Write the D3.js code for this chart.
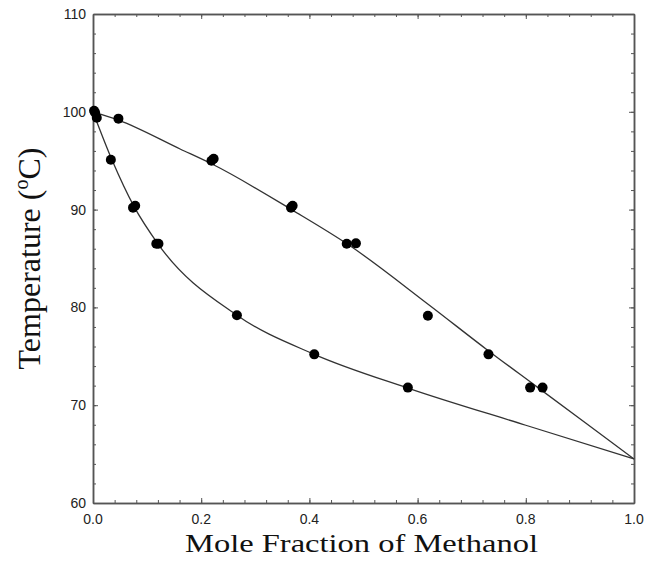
<!DOCTYPE html>
<html>
<head>
<meta charset="utf-8">
<script src="https://cdn.jsdelivr.net/npm/d3@7"></script>
<style>
  body { margin: 0; background: #fff; }
  svg { display: block; }
</style>
</head>
<body>
<div id="container"></div>
<script>
// measured points (mole fraction methanol, temperature in C)
var liquidX = [0.004, 0.007, 0.033, 0.074, 0.078, 0.117, 0.121, 0.266, 0.409, 0.582]
var liquidT = [99.9, 99.4, 95.1, 90.2, 90.4, 86.5, 86.5, 79.2, 75.2, 71.8]
var vaporX = [0.002, 0.047, 0.219, 0.223, 0.366, 0.369, 0.469, 0.486, 0.619, 0.731, 0.808, 0.831]
var vaporT = [100.1, 99.3, 95.0, 95.2, 90.2, 90.4, 86.5, 86.55, 79.15, 75.2, 71.8, 71.8]

// fitted curves
var bubbleX = [0, 0.035, 0.076, 0.12, 0.266, 0.409, 0.582, 0.8, 1]
var bubbleT = [100, 95.1, 90.3, 86.5, 79.2, 75.2, 71.75, 67.95, 64.5]
var dewX = [0, 0.047, 0.161, 0.22, 0.37, 0.475, 0.62, 0.73, 0.82, 1]
var dewT = [100, 99.15, 96.2, 94.66, 89.9, 86.3, 80.3, 75.6, 71.9, 64.5]

var xTicks = [0, 0.2, 0.4, 0.6, 0.8, 1.0]
var yTicks = [60, 70, 80, 90, 100, 110]

var width = 657, height = 574
var plotLeft = 93, plotRight = 634, plotTop = 14, plotBottom = 503

var svg = d3.select('#container').append('svg')
  .attr('width', width).attr('height', height)

var x = d3.scaleLinear().domain([0, 1]).range([plotLeft, plotRight])
var y = d3.scaleLinear().domain([60, 110]).range([plotBottom, plotTop])

var axisColor = '#555'

// minor + major ticks, all pointing inward, on every side
var xMinor = d3.range(0, 1.0001, 0.04)
var yMinor = d3.range(60, 110.001, 2)

function addAxis(axis, tx, ty) {
  var g = svg.append('g').attr('transform', 'translate(' + tx + ',' + ty + ')').call(axis)
  g.selectAll('path, line').attr('stroke', axisColor)
  g.select('.domain').attr('stroke-width', 1.5)
  g.selectAll('text').remove()
  return g
}

addAxis(d3.axisBottom(x).tickValues(xMinor).tickSizeInner(-3).tickSizeOuter(0), 0, plotBottom)
addAxis(d3.axisTop(x).tickValues(xMinor).tickSizeInner(-3).tickSizeOuter(0), 0, plotTop)
addAxis(d3.axisLeft(y).tickValues(yMinor).tickSizeInner(-3).tickSizeOuter(0), plotLeft, 0)
addAxis(d3.axisRight(y).tickValues(yMinor).tickSizeInner(-3).tickSizeOuter(0), plotRight, 0)
addAxis(d3.axisBottom(x).tickValues(xTicks).tickSizeInner(-5).tickSizeOuter(0), 0, plotBottom)
addAxis(d3.axisTop(x).tickValues(xTicks).tickSizeInner(-5).tickSizeOuter(0), 0, plotTop)
addAxis(d3.axisLeft(y).tickValues(yTicks).tickSizeInner(-5).tickSizeOuter(0), plotLeft, 0)
addAxis(d3.axisRight(y).tickValues(yTicks).tickSizeInner(-5).tickSizeOuter(0), plotRight, 0)

// tick labels
svg.append('g').selectAll('text').data(xTicks).enter().append('text')
  .attr('x', function (d) { return x(d) })
  .attr('y', plotBottom + 21)
  .attr('text-anchor', 'middle')
  .attr('font-family', 'Liberation Sans, Arial, sans-serif')
  .attr('font-size', 14)
  .attr('fill', '#222')
  .text(function (d) { return d.toFixed(1) })

svg.append('g').selectAll('text').data(yTicks).enter().append('text')
  .attr('x', plotLeft - 7)
  .attr('y', function (d) { return y(d) + 5 })
  .attr('text-anchor', 'end')
  .attr('font-family', 'Liberation Sans, Arial, sans-serif')
  .attr('font-size', 14)
  .attr('fill', '#222')
  .text(function (d) { return d })

// curves
var line = d3.line()
  .x(function (d) { return x(d[0]) })
  .y(function (d) { return y(d[1]) })
  .curve(d3.curveMonotoneX)

var bubble = d3.zip(bubbleX, bubbleT)
var dew = d3.zip(dewX, dewT)

svg.selectAll('path.curve').data([bubble, dew]).enter().append('path')
  .attr('class', 'curve')
  .attr('d', line)
  .attr('fill', 'none')
  .attr('stroke', '#333')
  .attr('stroke-width', 1.3)

// points
var pts = d3.zip(liquidX, liquidT).concat(d3.zip(vaporX, vaporT))
svg.selectAll('circle').data(pts).enter().append('circle')
  .attr('cx', function (d) { return x(d[0]) })
  .attr('cy', function (d) { return y(d[1]) })
  .attr('r', 5)
  .attr('fill', '#000')

// axis titles
svg.append('text')
  .attr('x', 361.5)
  .attr('y', 552)
  .attr('text-anchor', 'middle')
  .attr('font-family', 'Liberation Serif, Times New Roman, serif')
  .attr('font-size', 26)
  .attr('textLength', 353)
  .attr('lengthAdjust', 'spacingAndGlyphs')
  .attr('fill', '#111')
  .text('Mole Fraction of Methanol')

var yt = svg.append('text')
  .attr('transform', 'translate(40,' + (plotTop + plotBottom) / 2 + ') rotate(-90)')
  .attr('text-anchor', 'middle')
  .attr('font-family', 'Liberation Serif, Times New Roman, serif')
  .attr('font-size', 32)
  .attr('fill', '#111')
yt.append('tspan').text('Temperature (')
yt.append('tspan').attr('font-size', 20).attr('dy', -12).text('o')
yt.append('tspan').attr('dy', 12).text('C)')
</script>
</body>
</html>
